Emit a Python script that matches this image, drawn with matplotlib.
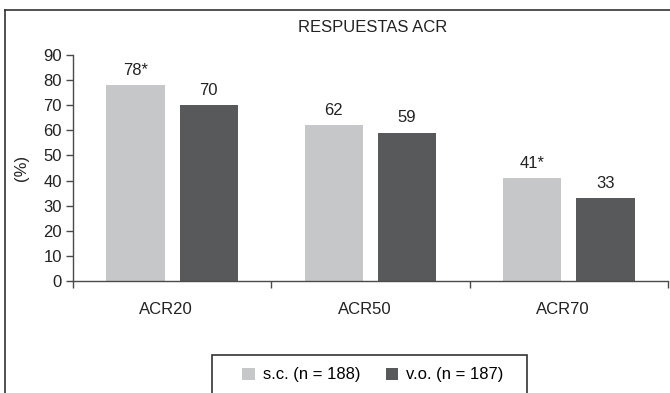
import matplotlib
matplotlib.use("Agg")
import matplotlib.pyplot as plt
from matplotlib.patches import Rectangle, Patch
from matplotlib.lines import Line2D
import numpy as np

categories = ["ACR20", "ACR50", "ACR70"]
sc_values = [78, 62, 41]
vo_values = [70, 59, 33]
sc_labels = ["78*", "62", "41*"]
vo_labels = ["70", "59", "33"]
series_names = ["s.c. (n = 188)", "v.o. (n = 187)"]
yticks = [0, 10, 20, 30, 40, 50, 60, 70, 80, 90]

plt.rcParams['font.family'] = ['Liberation Sans', 'DejaVu Sans']

W, H = 670, 393
fig = plt.figure(figsize=(W/100, H/100), dpi=100)

light = "#c6c7c9"
dark = "#58595b"
axcol = "#4a4a4a"
tcol = "#222222"
fs = 12

ax = fig.add_axes([73/W, 1-281/H, (668-73)/W, (281-55)/H])
x = np.arange(len(categories))
bw = 0.293
off = 0.185
ax.bar(x - off, sc_values, bw, color=light)
ax.bar(x + off, vo_values, bw, color=dark)
for i in range(len(categories)):
    ax.text(x[i] - off, sc_values[i] + 3, sc_labels[i], ha='center', va='bottom', fontsize=fs, color=tcol)
    ax.text(x[i] + off, vo_values[i] + 3, vo_labels[i], ha='center', va='bottom', fontsize=fs, color=tcol)

ax.set_xlim(-0.5, len(categories) - 0.5)
ax.set_ylim(0, 90)
ax.set_yticks(yticks)
ax.tick_params(axis='y', length=5, width=1, color=axcol, labelsize=fs, labelcolor=tcol, pad=3)
ax.set_xticks(np.arange(len(categories) + 1) - 0.5)
ax.set_xticklabels([])
ax.tick_params(axis='x', length=5, width=1, color=axcol)
for i, c in enumerate(categories):
    ax.text(x[i] - 0.03, -11.5, c, ha='center', va='center', fontsize=fs, color=tcol)
for s in ['top', 'right']:
    ax.spines[s].set_visible(False)
for s in ['left', 'bottom']:
    ax.spines[s].set_color(axcol)
    ax.spines[s].set_linewidth(1)
ax.set_ylabel("(%)", fontsize=fs, color=tcol, labelpad=10)

fig.text(373/W, 1-28/H, "RESPUESTAS ACR", ha='center', va='center', fontsize=fs, color=tcol)

# outer frame
fig.add_artist(Line2D([5/W, 5/W], [0, 1-10/H], color='#333', lw=1.2, transform=fig.transFigure))
fig.add_artist(Line2D([5/W, 1.0], [1-10/H, 1-10/H], color='#333', lw=1.2, transform=fig.transFigure))

# legend box
fig.add_artist(Rectangle((212/W, -0.05), (527-212)/W, (0.05 + 1-355/H), transform=fig.transFigure,
                         fill=False, edgecolor='#333', lw=1.2))
handles = [Patch(facecolor=light, edgecolor='none'), Patch(facecolor=dark, edgecolor='none')]
leg = fig.legend(handles, series_names, loc='center', bbox_to_anchor=(373/W, 1-375/H), ncol=2,
                 frameon=False, fontsize=fs, handlelength=0.75, handleheight=0.75, handletextpad=0.5,
                 columnspacing=1.5)

fig.savefig("out.png", dpi=100)
